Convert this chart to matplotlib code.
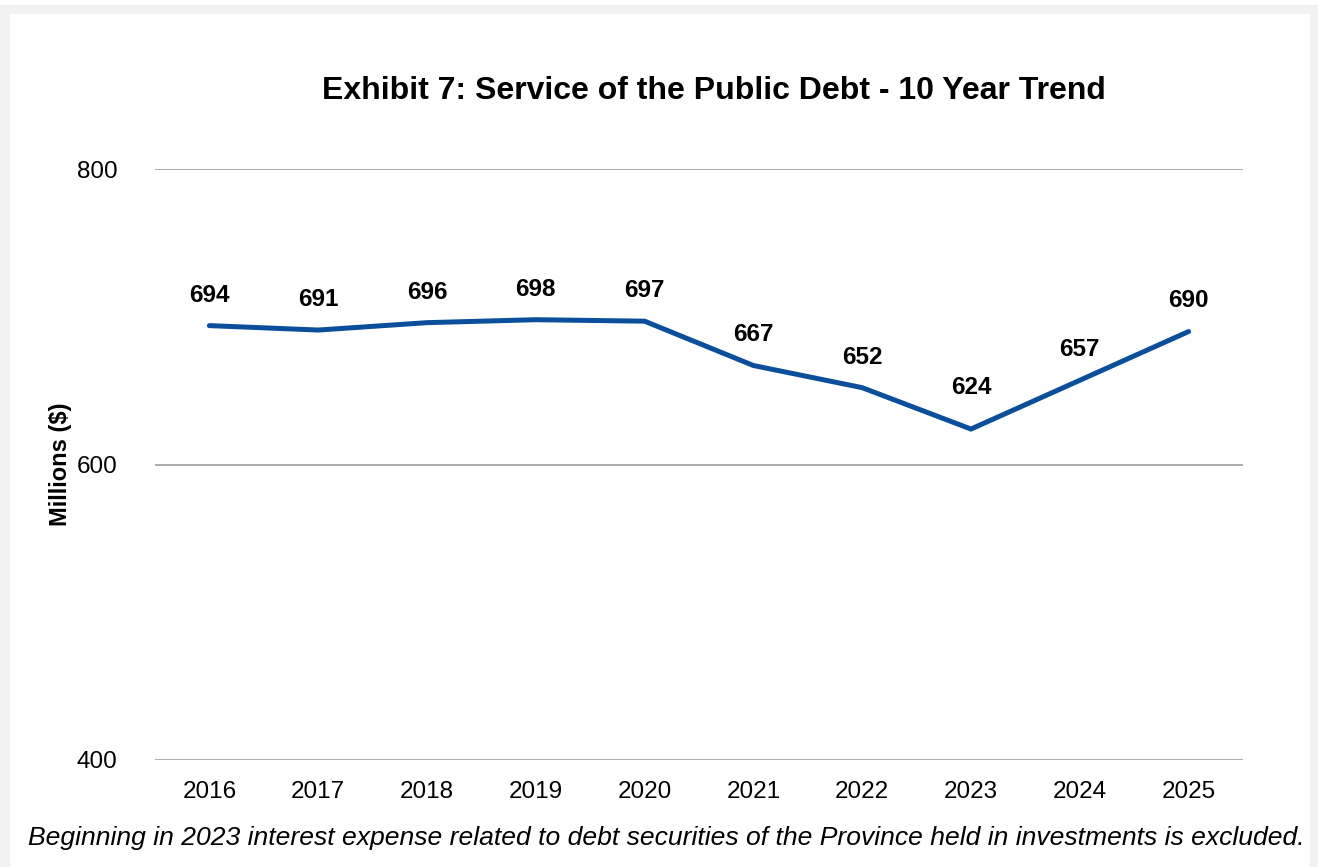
import matplotlib.pyplot as plt
from matplotlib.patches import Rectangle

years = ["2016", "2017", "2018", "2019", "2020", "2021", "2022", "2023", "2024", "2025"]
debt_service = [694, 691, 696, 698, 697, 667, 652, 624, 657, 690]
label_offsets = [22, 22, 22, 22, 22, 22, 22, 30, 22, 22]  # points above each point

plt.rcParams['font.family'] = ['Liberation Sans', 'DejaVu Sans']

fig = plt.figure(figsize=(13.18, 8.67), dpi=100)
fig.patch.set_facecolor('white')
# light grey frame around the chart area
fig.patches.append(Rectangle((0, 0), 1, 1 - 5 / 867, transform=fig.transFigure,
                             facecolor='#f2f2f2', edgecolor='none', zorder=-2))
fig.patches.append(Rectangle((10 / 1318, 0), 1300 / 1318, 1 - 14 / 867,
                             transform=fig.transFigure, facecolor='white',
                             edgecolor='none', zorder=-1))

ax = fig.add_axes([155 / 1318, 1 - 760 / 867, 1088 / 1318, 591 / 867])
ax.set_facecolor('none')
x = range(len(years))
ax.plot(x, debt_service, color='#0b4f9c', linewidth=3.6, solid_capstyle='round',
        solid_joinstyle='miter', zorder=3)

for xi, v, off in zip(x, debt_service, label_offsets):
    ax.annotate(str(v), (xi, v), xytext=(0, off), textcoords='offset points',
                ha='center', va='center', fontsize=17.5, fontweight='bold')

ax.set_xlim(-0.5, len(years) - 0.5)
ax.set_ylim(400, 800)
ax.set_yticks([400, 600, 800])
ax.set_xticks(list(x))
ax.set_xticklabels(years)
ax.tick_params(length=0, labelsize=17.5, pad=15)
ax.tick_params(axis='y', pad=27)
ax.grid(axis='y', color='#a6a6a6', linewidth=1.3)
ax.set_axisbelow(True)
for s in ax.spines.values():
    s.set_visible(False)

fig.text(714 / 1318, 1 - 91 / 867, 'Exhibit 7: Service of the Public Debt - 10 Year Trend',
         ha='center', va='center', fontsize=23, fontweight='bold')
fig.text(60 / 1318, 1 - 464 / 867, 'Millions ($)', rotation=90, ha='center',
         va='center', fontsize=17, fontweight='bold')
fig.text(28 / 1318, 1 - 838 / 867,
         'Beginning in 2023 interest expense related to debt securities of the Province held in investments is excluded.',
         ha='left', va='center', fontsize=19.05, style='italic')

fig.savefig('out.png', dpi=100)
